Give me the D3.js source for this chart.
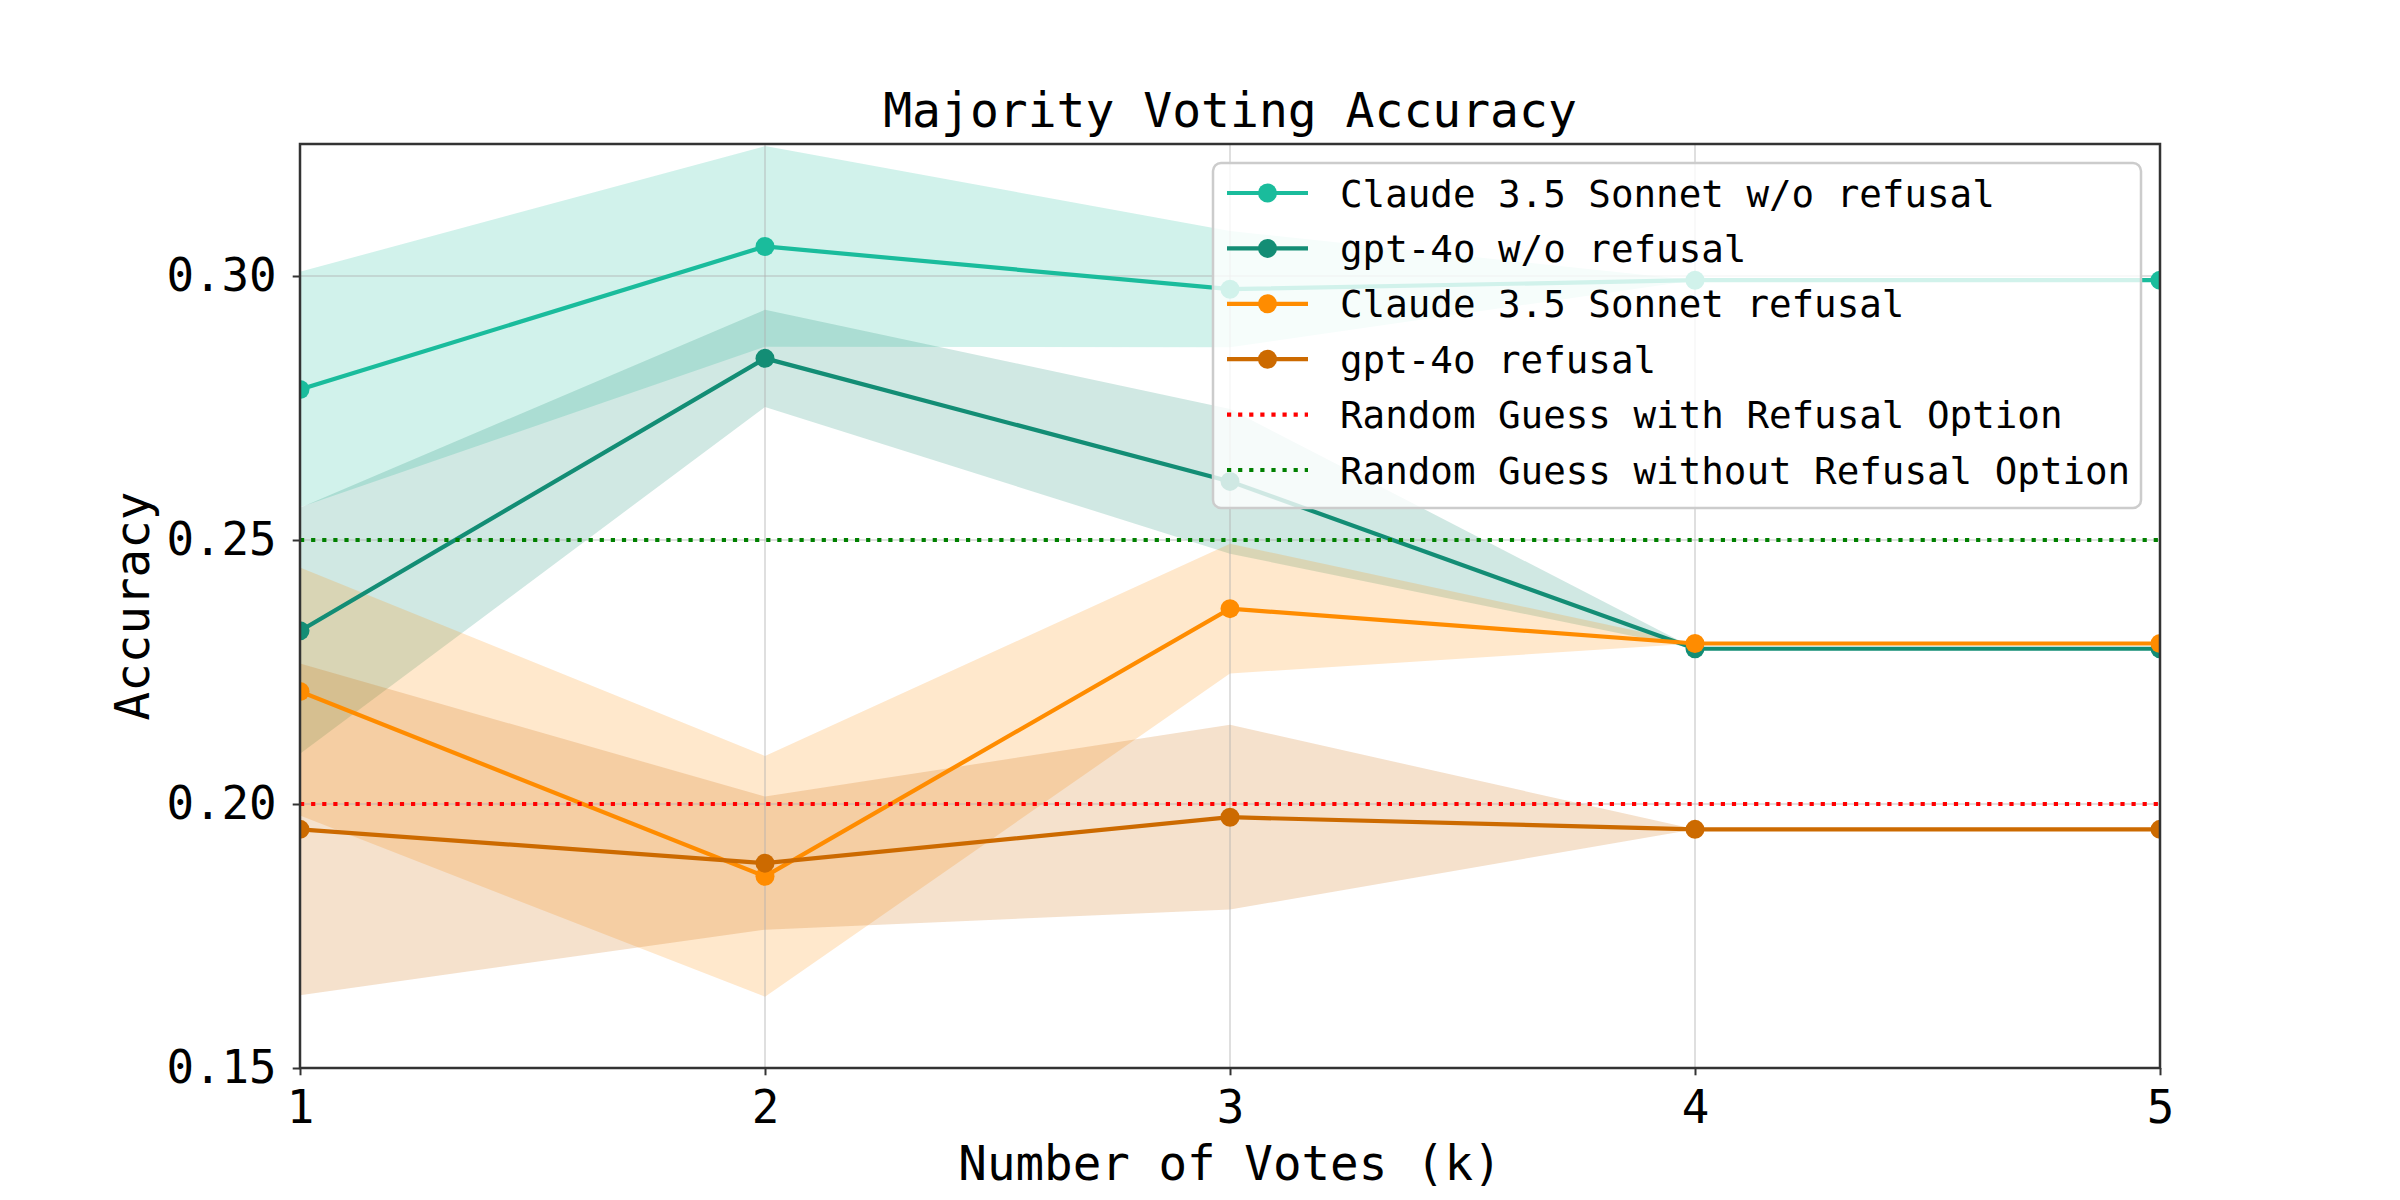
<!DOCTYPE html>
<html>
<head>
<meta charset="utf-8">
<script src="https://cdn.jsdelivr.net/npm/d3@7"></script>
<style>
  body { margin: 0; background: #fff; }
  text { font-family: 'DejaVu Sans Mono', monospace; fill: #000; }
</style>
</head>
<body>
<svg width="2400" height="1200"></svg>
<script>
// values
const votes = [1, 2, 3, 4, 5]
const claudeNoRefusal = [0.2785, 0.3056, 0.2975, 0.2992, 0.2992]
const claudeNoRefusalErr = [0.0223, 0.0190, 0.0110, 0, 0]
const gptNoRefusal = [0.2328, 0.2844, 0.2611, 0.2294, 0.2294]
const gptNoRefusalErr = [0.0233, 0.0092, 0.0137, 0, 0]
const claudeRefusal = [0.2213, 0.1863, 0.2370, 0.2304, 0.2304]
const claudeRefusalErr = [0.0235, 0.0228, 0.0123, 0, 0]
const gptRefusal = [0.1952, 0.1888, 0.1975, 0.1952, 0.1952]
const gptRefusalErr = [0.0314, 0.0126, 0.0175, 0, 0]
const seriesNames = ['Claude 3.5 Sonnet w/o refusal', 'gpt-4o w/o refusal', 'Claude 3.5 Sonnet refusal', 'gpt-4o refusal']
const seriesColors = ['#1abc9c', '#138d75', '#ff8c00', '#cc6a00']
const guessLevels = [0.20, 0.25]
const guessNames = ['Random Guess with Refusal Option', 'Random Guess without Refusal Option']
const guessColors = ['#ff0000', '#008000']
const yTicks = [0.15, 0.20, 0.25, 0.30]

const svg = d3.select('svg')
const margin = { top: 144, right: 240, bottom: 132, left: 300 }
const width = svg.attr('width') - margin.left - margin.right
const height = svg.attr('height') - margin.top - margin.bottom

const x = d3.scaleLinear().domain([1, 5]).range([0, width])
const y = d3.scaleLinear().domain([0.15, 0.325]).range([height, 0])

const series = [
    { name: seriesNames[0], color: seriesColors[0], mean: claudeNoRefusal, err: claudeNoRefusalErr },
    { name: seriesNames[1], color: seriesColors[1], mean: gptNoRefusal, err: gptNoRefusalErr },
    { name: seriesNames[2], color: seriesColors[2], mean: claudeRefusal, err: claudeRefusalErr },
    { name: seriesNames[3], color: seriesColors[3], mean: gptRefusal, err: gptRefusalErr }
].map(s => ({ ...s, points: votes.map((k, i) => ({ k, v: s.mean[i], e: s.err[i] })) }))

const g = svg.append('g')
    .attr('transform', `translate(${margin.left},${margin.top})`)

const clip = svg.append('clipPath').attr('id', 'plot')
clip.append('rect').attr('width', width).attr('height', height)

const plot = g.append('g').attr('clip-path', 'url(#plot)')

// error bands
const band = d3.area()
    .x(d => x(d.k))
    .y0(d => y(d.v - d.e))
    .y1(d => y(d.v + d.e))

plot.selectAll('.band')
    .data(series)
    .enter().append('path')
    .attr('class', 'band')
    .attr('d', d => band(d.points))
    .attr('fill', d => d.color)
    .attr('fill-opacity', 0.2)

// grid
plot.selectAll('.vgrid')
    .data(votes)
    .enter().append('line')
    .attr('x1', d => x(d)).attr('x2', d => x(d))
    .attr('y1', 0).attr('y2', height)
    .attr('stroke', '#b0b0b0').attr('stroke-opacity', 0.4).attr('stroke-width', 2)

plot.selectAll('.hgrid')
    .data(yTicks)
    .enter().append('line')
    .attr('x1', 0).attr('x2', width)
    .attr('y1', d => y(d)).attr('y2', d => y(d))
    .attr('stroke', '#b0b0b0').attr('stroke-opacity', 0.4).attr('stroke-width', 2)

// series lines + markers
const line = d3.line().x(d => x(d.k)).y(d => y(d.v))

const sg = plot.selectAll('.series')
    .data(series)
    .enter().append('g')
    .attr('class', 'series')

sg.append('path')
    .attr('d', d => line(d.points))
    .attr('fill', 'none')
    .attr('stroke', d => d.color)
    .attr('stroke-width', 4.2)

sg.selectAll('circle')
    .data(d => d.points.map(p => ({ ...p, color: d.color })))
    .enter().append('circle')
    .attr('cx', d => x(d.k))
    .attr('cy', d => y(d.v))
    .attr('r', 9.5)
    .attr('fill', d => d.color)

// random guess lines
plot.selectAll('.guess')
    .data(guessLevels)
    .enter().append('line')
    .attr('x1', 0).attr('x2', width)
    .attr('y1', d => y(d)).attr('y2', d => y(d))
    .attr('stroke', (d, i) => guessColors[i])
    .attr('stroke-width', 4.2)
    .attr('stroke-dasharray', '4.2 6.9')

// axes
const xAxis = g.append('g')
    .attr('transform', `translate(0,${height})`)
    .call(d3.axisBottom(x).tickValues(votes).tickFormat(d3.format('d')).tickSize(7.3).tickPadding(15))
const yAxis = g.append('g')
    .call(d3.axisLeft(y).tickValues(yTicks).tickFormat(d3.format('.2f')).tickSize(7.3).tickPadding(16))

for (const ax of [xAxis, yAxis]) {
    ax.select('.domain').remove()
    ax.selectAll('.tick line').attr('stroke', '#333').attr('stroke-width', 2)
    ax.selectAll('.tick text').attr('font-size', 45.8).attr('font-family', 'DejaVu Sans Mono').attr('fill', '#000')
}
xAxis.selectAll('.tick text').attr('dy', '0.71em')

g.append('rect')
    .attr('width', width).attr('height', height)
    .attr('fill', 'none').attr('stroke', '#333').attr('stroke-width', 2.5)

// labels
svg.append('text')
    .attr('x', margin.left + width / 2).attr('y', 127)
    .attr('text-anchor', 'middle').attr('font-size', 48)
    .text('Majority Voting Accuracy')

svg.append('text')
    .attr('x', margin.left + width / 2).attr('y', 1180)
    .attr('text-anchor', 'middle').attr('font-size', 47.5)
    .text('Number of Votes (k)')

svg.append('text')
    .attr('transform', `translate(149,${margin.top + height / 2}) rotate(-90)`)
    .attr('text-anchor', 'middle').attr('font-size', 47.5)
    .text('Accuracy')

// legend
const legend = svg.append('g').attr('transform', 'translate(1213,163)')
legend.append('rect')
    .attr('width', 928).attr('height', 345).attr('rx', 8)
    .attr('fill', '#fff').attr('fill-opacity', 0.8)
    .attr('stroke', '#cccccc').attr('stroke-width', 2.5)

const legendItems = series.map(s => ({ name: s.name, color: s.color, dotted: false }))
    .concat(guessNames.map((n, i) => ({ name: n, color: guessColors[i], dotted: true })))

const row = legend.selectAll('.row')
    .data(legendItems)
    .enter().append('g')
    .attr('transform', (d, i) => `translate(0,${30 + i * 55.4})`)

row.append('line')
    .attr('x1', 14).attr('x2', 95)
    .attr('stroke', d => d.color).attr('stroke-width', 4.2)
    .attr('stroke-dasharray', d => d.dotted ? '4.2 6.9' : null)

row.filter(d => !d.dotted).append('circle')
    .attr('cx', 54.5).attr('r', 9.5).attr('fill', d => d.color)

row.append('text')
    .attr('x', 127).attr('y', 13.5)
    .attr('font-size', 37.5)
    .text(d => d.name)
</script>
</body>
</html>
